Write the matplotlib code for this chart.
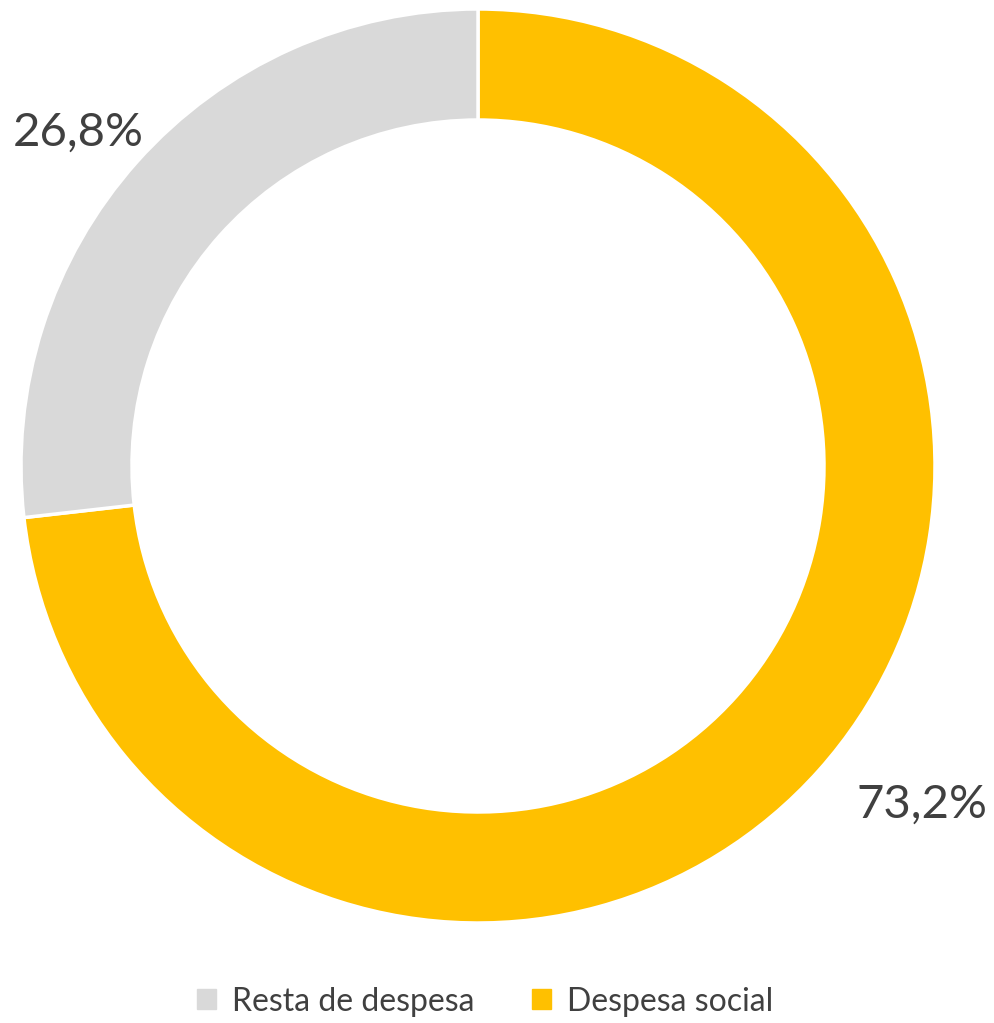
import matplotlib.pyplot as plt
from matplotlib.patches import Patch

labels = ['Despesa social', 'Resta de despesa']
values = [73.2, 26.8]
colors = ['#FFC000', '#D9D9D9']
value_labels = ['73,2%', '26,8%']

plt.rcParams['font.family'] = ['Lato', 'DejaVu Sans']

fig = plt.figure(figsize=(9.94, 10.23), dpi=100)
ax = fig.add_axes([0, 0, 1, 1])

cx, cy, r = 478, 1023 - 466, 457
wedges, _ = ax.pie(values, colors=colors, startangle=90, counterclock=False,
                   center=(cx, cy), radius=r, frame=True,
                   wedgeprops=dict(width=111, edgecolor='white', linewidth=2.5))
ax.set_xlim(0, 994)
ax.set_ylim(0, 1023)
ax.set_aspect('equal')
ax.axis('off')

# value labels outside ring
ax.text(922, 1023 - 805, value_labels[0], fontsize=34, color='#404040',
        ha='center', va='center')
ax.text(78, 1023 - 133, value_labels[1], fontsize=34, color='#404040',
        ha='center', va='center')

handles = [Patch(color=colors[1]), Patch(color=colors[0])]
fig.legend(handles, [labels[1], labels[0]], loc='center', bbox_to_anchor=(0.488, 0.021),
           ncol=2, frameon=False, fontsize=23, labelcolor='#404040',
           handlelength=0.6, handleheight=0.6, handletextpad=0.5, columnspacing=1.8)

fig.savefig('out.png', dpi=100)
